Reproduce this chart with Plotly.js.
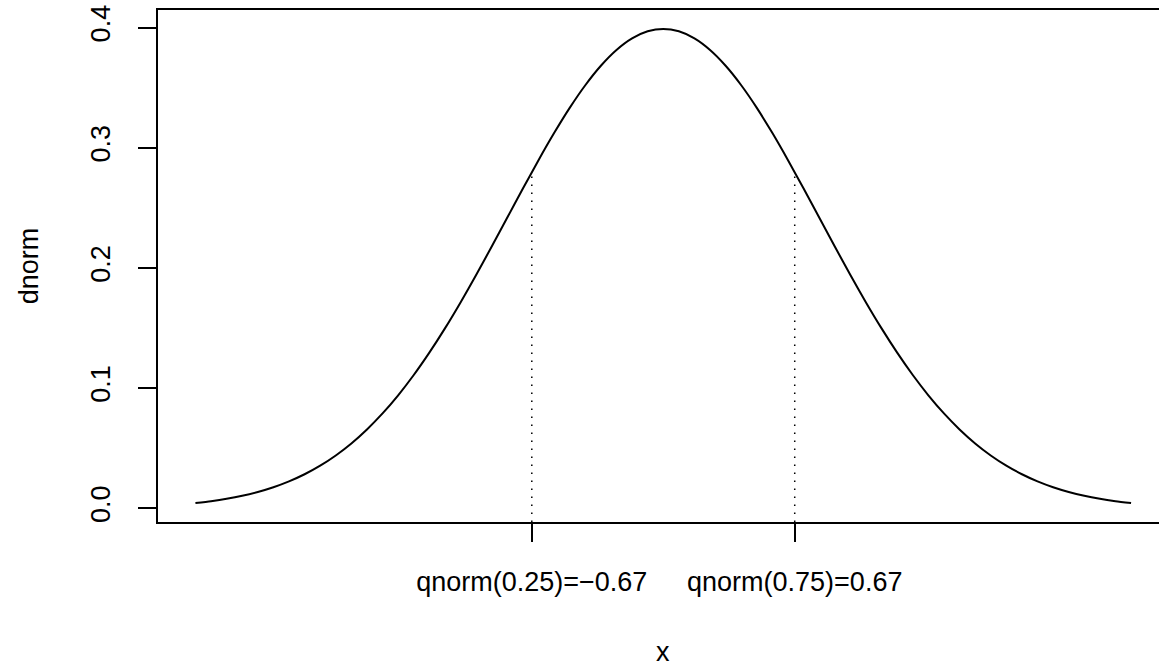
<!DOCTYPE html>
<html>
<head>
<meta charset="utf-8">
<script src="https://cdn.plot.ly/plotly-3.0.1.min.js"></script>
<style>html,body{margin:0;padding:0;background:#fff;}#chart{width:1159px;height:670px;}</style>
</head>
<body>
<div id="chart"></div>
<script>
// Density curve values (standard normal density, x from -3 to 3)
const xValues = [-3.0,-2.9,-2.8,-2.7,-2.6,-2.5,-2.4,-2.3,-2.2,-2.1,-2.0,-1.9,-1.8,-1.7,-1.6,-1.5,-1.4,-1.3,-1.2,-1.1,-1.0,-0.9,-0.8,-0.7,-0.6,-0.5,-0.4,-0.3,-0.2,-0.1,0.0,0.1,0.2,0.3,0.4,0.5,0.6,0.7,0.8,0.9,1.0,1.1,1.2,1.3,1.4,1.5,1.6,1.7,1.8,1.9,2.0,2.1,2.2,2.3,2.4,2.5,2.6,2.7,2.8,2.9,3.0];
const densityValues = [0.004432,0.005953,0.007915,0.010421,0.013583,0.017528,0.022395,0.028327,0.035475,0.043984,0.053991,0.065616,0.078950,0.094049,0.110921,0.129518,0.149727,0.171369,0.194186,0.217852,0.241971,0.266085,0.289692,0.312254,0.333225,0.352065,0.368270,0.381388,0.391043,0.396953,0.398942,0.396953,0.391043,0.381388,0.368270,0.352065,0.333225,0.312254,0.289692,0.266085,0.241971,0.217852,0.194186,0.171369,0.149727,0.129518,0.110921,0.094049,0.078950,0.065616,0.053991,0.043984,0.035475,0.028327,0.022395,0.017528,0.013583,0.010421,0.007915,0.005953,0.004432];

// Quartile marker positions and their heights on the curve
const quartileX = [-0.843, 0.843];
const quartileTop = [0.2797, 0.2797];
const xTickLabels = ['qnorm(0.25)=\u22120.67', 'qnorm(0.75)=0.67'];

const yTickValues = [0, 0.1, 0.2, 0.3, 0.4];
const yTickLabels = ['0.0', '0.1', '0.2', '0.3', '0.4'];

const yRange = [-0.0114, 0.4147];
const xRange = [-3.24, 3.179];

const FONT = 'Liberation Sans, Arial, Helvetica, sans-serif';
const FS = 27;

const traces = [{
  x: xValues, y: densityValues, type: 'scatter', mode: 'lines',
  line: {color: '#000', width: 2, shape: 'spline', smoothing: 0.6}, hoverinfo: 'skip', showlegend: false
}];
quartileX.forEach((q, i) => {
  traces.push({
    x: [q, q], y: [yRange[0], quartileTop[i]], type: 'scatter', mode: 'lines',
    line: {color: '#000', width: 1.5, dash: '1.5px,6.5px'}, hoverinfo: 'skip', showlegend: false
  });
});

const layout = {
  width: 1159, height: 670,
  margin: {l: 158, r: 0, t: 10, b: 148, pad: 0},
  paper_bgcolor: '#fff', plot_bgcolor: '#fff',
  font: {family: FONT, size: FS, color: '#000'},
  showlegend: false,
  xaxis: {
    range: xRange, showgrid: false, zeroline: false,
    showline: true, mirror: true, linecolor: '#000', linewidth: 2,
    ticks: 'outside', ticklen: 18, tickwidth: 2, tickcolor: '#000',
    tickmode: 'array', tickvals: quartileX, ticktext: xTickLabels,
    ticklabelstandoff: 17,
    tickfont: {family: FONT, size: FS, color: '#000'}
  },
  yaxis: {
    range: yRange, showgrid: false, zeroline: false,
    showline: true, mirror: false, linecolor: '#000', linewidth: 2,
    ticks: 'outside', ticklen: 18, tickwidth: 2, tickcolor: '#000',
    tickmode: 'array', tickvals: yTickValues, ticktext: yTickLabels,
    tickangle: -90, ticklabelstandoff: 17,
    tickfont: {family: FONT, size: FS, color: '#000'},
    title: {text: 'dnorm', font: {family: FONT, size: FS, color: '#000'}, standoff: 40}
  },
  annotations: [{
    text: 'x', xref: 'x', x: 0, yref: 'paper', y: 0, yanchor: 'middle',
    yshift: -130, showarrow: false, font: {family: FONT, size: FS, color: '#000'}
  }]
};

Plotly.newPlot('chart', traces, layout, {displayModeBar: false, staticPlot: true});
</script>
</body>
</html>
